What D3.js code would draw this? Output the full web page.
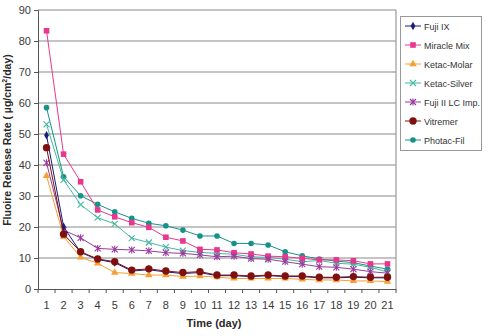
<!DOCTYPE html>
<html><head><meta charset="utf-8">
<script src="https://cdn.jsdelivr.net/npm/d3@7"></script>
<style>body{margin:0;background:#fff}svg{display:block;font-family:"Liberation Sans",Arial,sans-serif}</style>
</head><body><svg id="c" width="487" height="336"></svg>
<script>
const days = d3.range(1, 22).map(String);
const yTicks = [0,10,20,30,40,50,60,70,80,90];
const fujiIX =      [49.6,20.1,11.8,9.5,8.5,5.8,6.2,5.5,5.0,5.3,4.3,4.3,4.0,4.3,4.0,4.0,3.6,3.6,3.8,3.6,3.6];
const miracleMix =  [83.3,43.5,34.6,25.5,23.3,21.4,19.9,16.7,15.5,12.8,12.6,11.7,11.3,10.6,10.4,9.9,9.4,9.4,9.1,8.1,8.1];
const ketacMolar =  [36.5,16.9,10.2,8.3,5.3,5.0,4.5,4.5,4.0,4.2,3.8,3.4,3.4,3.4,3.4,3.1,2.9,2.9,2.6,2.6,2.4];
const ketacSilver = [53.1,35.2,27.2,23.0,21.0,16.4,15.0,13.5,12.4,11.8,11.5,11.2,10.4,10.2,9.6,8.8,9.2,8.3,8.0,7.0,5.5];
const fujiIILC =    [40.7,19.0,16.5,13.1,12.8,12.6,12.3,11.7,11.5,11.0,10.4,10.6,9.8,9.6,8.8,8.0,7.2,7.0,6.4,5.6,5.1];
const vitremer =    [45.6,17.7,12.0,9.7,8.8,6.1,6.5,5.8,5.3,5.6,4.5,4.5,4.2,4.5,4.2,4.2,3.8,3.8,4.0,3.8,3.8];
const photacFil =   [58.5,36.2,30.1,27.3,24.9,22.8,21.2,20.4,19.0,17.1,17.1,14.7,14.7,14.2,12.0,10.7,9.7,9.0,8.5,7.4,6.4];

const seriesNames = ["Fuji IX","Miracle Mix","Ketac-Molar","Ketac-Silver","Fuji II LC Imp.","Vitremer","Photac-Fil"];
const seriesValues = [fujiIX, miracleMix, ketacMolar, ketacSilver, fujiIILC, vitremer, photacFil];
const colors = ["#1a1a80","#e8388e","#f5a030","#44b8a0","#9a3a9e","#801010","#17928a"];
const shapes = ["diamond","square","triangle","x","star","bigcircle","circle"];
const drawOrder = [6,3,1,4,0,2,5];

const svg = d3.select("#c");
const L = 38, R = 396, T = 10, B = 289;
const x = d3.scaleBand().domain(days).range([L, R]);
const y = d3.scaleLinear().domain([0, 90]).range([B, T]);

svg.append("g").selectAll("line").data(yTicks.filter(v => v > 0)).join("line")
  .attr("x1", L).attr("x2", R).attr("y1", d => y(d)).attr("y2", d => y(d))
  .attr("stroke", "#8a8a8a").attr("stroke-width", 1.2);
svg.append("line").attr("x1", R).attr("x2", R).attr("y1", T).attr("y2", B)
  .attr("stroke", "#9a9a9a").attr("stroke-width", 1.2);

const ya = svg.append("g").attr("transform", `translate(${L},0)`)
  .call(d3.axisLeft(y).tickValues(yTicks).tickSize(4).tickPadding(3));
ya.select(".domain").attr("stroke", "#555");
ya.selectAll(".tick line").attr("stroke", "#555");
ya.selectAll("text").attr("font-size", 11).attr("fill", "#3a3a3a").attr("font-family", "Liberation Sans, Arial");

const xa = svg.append("g").attr("transform", `translate(0,${B})`)
  .call(d3.axisBottom(x).tickSize(0).tickPadding(12));
xa.select(".domain").attr("stroke", "#555");
xa.selectAll("text").attr("font-size", 11).attr("fill", "#3a3a3a").attr("font-family", "Liberation Sans, Arial");
svg.append("g").selectAll("line").data(d3.range(days.length + 1)).join("line")
  .attr("x1", i => L + i * x.step()).attr("x2", i => L + i * x.step())
  .attr("y1", B).attr("y2", B + 4).attr("stroke", "#555");

svg.append("text").attr("x", 214).attr("y", 327).attr("text-anchor", "middle")
  .attr("font-size", 11).attr("font-weight", "bold").attr("fill", "#2a2a2a").text("Time (day)");
const yt = svg.append("text").attr("transform", "translate(11,140) rotate(-90)").attr("text-anchor", "middle")
  .attr("font-size", 10.5).attr("font-weight", "bold").attr("fill", "#2a2a2a");
yt.append("tspan").text("Fluoire Release Rate ( µg/cm");
yt.append("tspan").attr("font-size", 7).attr("dy", -4).text("2");
yt.append("tspan").attr("dy", 4).text("/day)");

function marker(g, shape, color, cx, cy) {
  if (shape === "diamond") {
    g.append("path").attr("d", d3.symbol(d3.symbolDiamond, 20)()).attr("transform", `translate(${cx},${cy})`).attr("fill", color);
  } else if (shape === "square") {
    g.append("rect").attr("x", cx - 2.8).attr("y", cy - 2.8).attr("width", 5.6).attr("height", 5.6).attr("fill", color);
  } else if (shape === "triangle") {
    g.append("path").attr("d", d3.symbol(d3.symbolTriangle, 24)()).attr("transform", `translate(${cx},${cy})`).attr("fill", color);
  } else if (shape === "x") {
    g.append("path").attr("d", `M${cx-3},${cy-3}L${cx+3},${cy+3}M${cx-3},${cy+3}L${cx+3},${cy-3}`).attr("stroke", color).attr("stroke-width", 1.1);
  } else if (shape === "star") {
    g.append("path").attr("d", `M${cx-3},${cy-3}L${cx+3},${cy+3}M${cx-3},${cy+3}L${cx+3},${cy-3}M${cx},${cy-3.5}L${cx},${cy+3.5}`).attr("stroke", color).attr("stroke-width", 1.1);
  } else if (shape === "bigcircle") {
    g.append("circle").attr("cx", cx).attr("cy", cy).attr("r", 3.7).attr("fill", color);
  } else {
    g.append("circle").attr("cx", cx).attr("cy", cy).attr("r", 2.8).attr("fill", color);
  }
}

const line = d3.line().x((d, i) => x(days[i]) + x.bandwidth() / 2).y(d => y(d));
drawOrder.forEach(k => {
  const g = svg.append("g");
  g.append("path").attr("d", line(seriesValues[k])).attr("fill", "none")
    .attr("stroke", colors[k]).attr("stroke-width", 1);
  seriesValues[k].forEach((v, i) => marker(g, shapes[k], colors[k], x(days[i]) + x.bandwidth() / 2, y(v)));
});

const lg = svg.append("g");
lg.append("rect").attr("x", 400.5).attr("y", 16.5).attr("width", 81).attr("height", 134)
  .attr("fill", "#fff").attr("stroke", "#999");
seriesNames.forEach((n, k) => {
  const cy = 26 + k * 19;
  lg.append("line").attr("x1", 405).attr("x2", 421).attr("y1", cy).attr("y2", cy).attr("stroke", colors[k]).attr("stroke-width", 1);
  marker(lg, shapes[k], colors[k], 413, cy);
  lg.append("text").attr("x", 424).attr("y", cy + 3.5).attr("font-size", 9).attr("fill", "#333").text(n);
});
</script></body></html>
